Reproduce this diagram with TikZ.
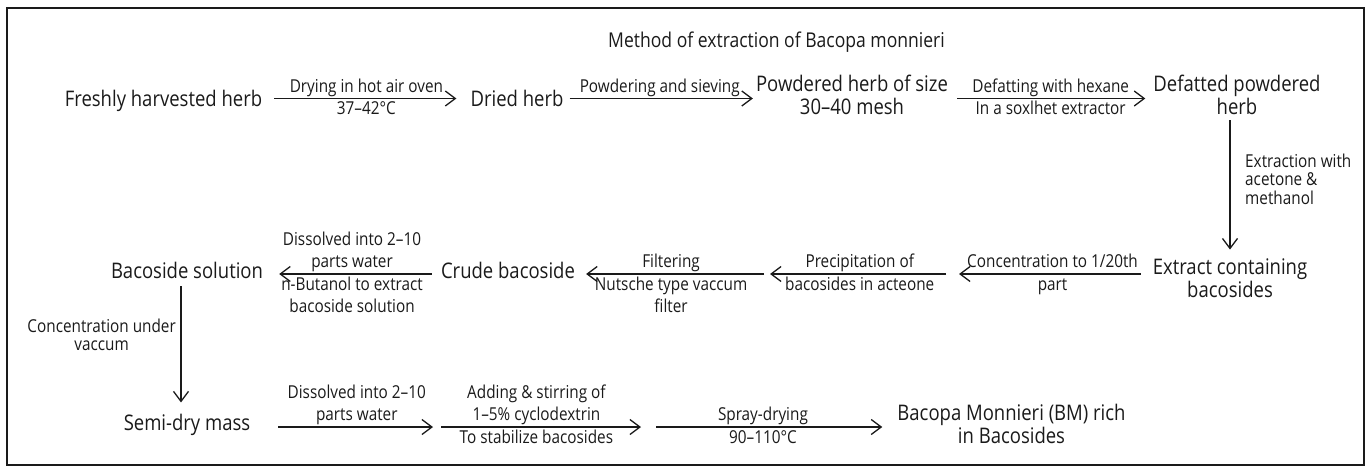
\documentclass[tikz,border=0pt]{standalone}
\usepackage{fontspec}
\setmainfont{Open Sans}[FakeStretch=0.86]
\usetikzlibrary{arrows.meta}
\definecolor{ink}{HTML}{1A1A1A}
\begin{document}
\begin{tikzpicture}[x=1pt,y=-1pt,
  main/.style={inner sep=0pt, align=center, anchor=base, text=ink,
    font=\fontsize{21.5}{22.5}\selectfont},
  lab/.style={inner sep=0pt, align=center, text=ink,
    font=\fontsize{17.8}{22}\selectfont},
  labA/.style={lab, anchor=base, yshift=6.5pt},
  labB/.style={lab, anchor=base, yshift=-16pt},
  labBB/.style={lab, anchor=base, yshift=-38pt},
  arr/.style={draw=ink, line width=1.3pt, -{Straight Barb[length=10pt,width=15pt]}},
  frame/.style={draw=ink, line width=1.2pt}]
\useasboundingbox (0,0) rectangle (1370,469);
\draw[frame] (7,8) rectangle (1364,465);

\node[main, font=\fontsize{20.4}{22}\selectfont] (title) at (776.5,47) {Method of extraction of Bacopa monnieri};

% row 1 (multi-line nodes are placed at the baseline of their last line)
\node[main] (fresh) at (163.5,106) {Freshly harvested herb};
\node[main] (dried) at (517,106) {Dried herb};
\node[main] (powd) at (852,114) {Powdered herb of size\\30–40 mesh};
\node[main] (defat) at (1237,114) {Defatted powdered\\herb};

% row 2
\node[main] (extr) at (1230,297) {Extract containing\\bacosides};
\node[main] (crude) at (508,278) {Crude bacoside};
\node[main] (bsol) at (187,278) {Bacoside solution};
\coordinate (j1) at (952.5,274);
\coordinate (j2) at (767,274);

% row 3
\node[main] (semi) at (187,430) {Semi-dry mass};
\node[main] (bm) at (1011.5,443) {Bacopa Monnieri (BM) rich\\in Bacosides};
\coordinate (k1) at (437,427);
\coordinate (k2) at (648.5,427);

% row 1 arrows
\draw[arr, shorten <=12pt, shorten >=14pt] (fresh.east |- 0,98.5) --
  node[labA] {Drying in hot air oven} node[labB] {37–42°C} (dried.west |- 0,98.5);
\draw[arr, shorten <=6pt, shorten >=3pt] (dried.east |- 0,98.5) --
  node[labA] {Powdering and sieving} (powd.west |- 0,98.5);
\draw[arr, shorten <=9pt, shorten >=8pt] (powd.east |- 0,98.5) --
  node[labA] {Defatting with hexane} node[labB] {In a soxlhet extractor} (defat.west |- 0,98.5);

% vertical 1
\draw[arr, shorten <=6pt, shorten >=9pt] (extr.north |- defat.south) -- (extr.north);
\node[lab, align=left, anchor=base west, font=\fontsize{17.8}{18.5}\selectfont] (vl1) at (1245,204) {Extraction with\\acetone \&\\methanol};

% row 2 arrows
\draw[arr, shorten <=12pt, shorten >=6.5pt] (extr.west |- j1) --
  node[labA] {Concentration to 1/20th} node[labB] {part} (j1);
\draw[arr, shorten <=6.5pt, shorten >=3pt] (j1) --
  node[labA] {Precipitation of} node[labB] {bacosides in acteone} (j2);
\draw[arr, shorten <=3pt, shorten >=11pt] (j2) --
  node[labA] {Filtering} node[labBB] {Nutsche type vaccum\\filter} (crude.east |- j2);
\draw[arr, shorten <=9pt, shorten >=16pt] (crude.west |- j2) --
  node[labA] {Dissolved into 2–10\\parts water} node[labBB] {n-Butanol to extract\\bacoside solution} (bsol.east |- j2);

% vertical 2
\draw[arr, shorten <=8pt, shorten >=11pt] ([xshift=-6pt]bsol.south) -- ([xshift=-6pt]semi.north);
\node[lab, anchor=base east, font=\fontsize{17.8}{18}\selectfont] (vl2) at (176,350) {Concentration under\\vaccum};

% row 3 arrows
\draw[arr, shorten <=28pt, shorten >=4pt] (semi.east |- k1) --
  node[labA, pos=0.57] {Dissolved into 2–10\\parts water} (k1);
\draw[arr, shorten <=4pt, shorten >=7.5pt] (k1) --
  node[labA, pos=0.47] {Adding \& stirring of\\1–5\% cyclodextrin} node[labB, pos=0.47] {To stabilize bacosides} (k2);
\draw[arr, shorten <=7.5pt, shorten >=15pt] (k2) --
  node[labA, pos=0.46] {Spray-drying} node[labB, pos=0.46] {90–110°C} (bm.west |- k2);
\end{tikzpicture}
\end{document}
